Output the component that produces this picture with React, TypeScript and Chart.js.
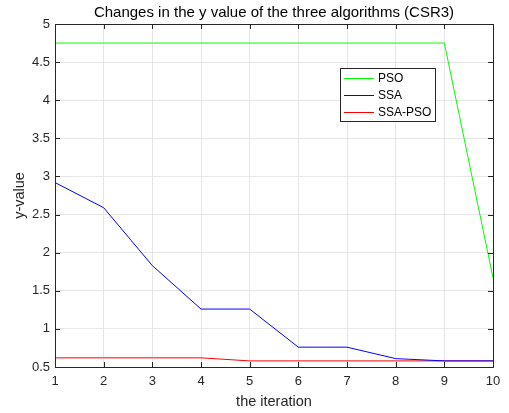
import React, { useEffect, useRef } from "react";
import { Chart, registerables } from "chart.js";

Chart.register(...registerables);

const iterations = [1, 2, 3, 4, 5, 6, 7, 8, 9, 10];
const psoValues = [4.75, 4.75, 4.75, 4.75, 4.75, 4.75, 4.75, 4.75, 4.75, 1.67];
const ssaValues = [2.92, 2.59, 1.83, 1.26, 1.26, 0.76, 0.76, 0.61, 0.58, 0.58];
const ssaPsoValues = [0.62, 0.62, 0.62, 0.62, 0.58, 0.58, 0.58, 0.58, 0.58, 0.58];
const seriesNames = ["PSO", "SSA", "SSA-PSO"];
const seriesColors = ["#00ff00", "#0000ff", "#ff0000"];
const titleText = "Changes in the y value of the three algorithms (CSR3)";
const xTitle = "the iteration";
const yTitle = "y-value";

const FONT = "Liberation Sans, Arial, sans-serif";
const AXIS = "#262626";

const framePlugin = {
  id: "matlabFrame",
  afterDraw(chart: any) {
    const { ctx, chartArea: a, scales } = chart;
    const xs = scales.x;
    const ys = scales.y;
    ctx.save();
    ctx.strokeStyle = AXIS;
    ctx.lineWidth = 1;
    ctx.strokeRect(Math.round(a.left) + 0.5, Math.round(a.top) + 0.5, Math.round(a.right - a.left), Math.round(a.bottom - a.top));
    ctx.beginPath();
    xs.ticks.forEach((t: any) => {
      const px = Math.round(xs.getPixelForValue(t.value)) + 0.5;
      ctx.moveTo(px, a.bottom);
      ctx.lineTo(px, a.bottom - 5);
      ctx.moveTo(px, a.top);
      ctx.lineTo(px, a.top + 5);
    });
    ys.ticks.forEach((t: any) => {
      const py = Math.round(ys.getPixelForValue(t.value)) + 0.5;
      ctx.moveTo(a.left, py);
      ctx.lineTo(a.left + 5, py);
      ctx.moveTo(a.right, py);
      ctx.lineTo(a.right - 5, py);
    });
    ctx.stroke();
    ctx.fillStyle = "#000";
    ctx.font = `15px ${FONT}`;
    ctx.textAlign = "center";
    ctx.textBaseline = "middle";
    ctx.fillText(titleText, (a.left + a.right) / 2, 13);
    ctx.fillStyle = AXIS;
    ctx.font = `14.5px ${FONT}`;
    ctx.fillText(xTitle, (a.left + a.right) / 2, 402);
    ctx.save();
    ctx.translate(20, (a.top + a.bottom) / 2);
    ctx.rotate(-Math.PI / 2);
    ctx.fillText(yTitle, 0, 0);
    ctx.restore();
    const lx = 340.5, ly = 68.5, lw = 95, lh = 53;
    ctx.fillStyle = "#fff";
    ctx.fillRect(lx, ly, lw, lh);
    ctx.strokeStyle = AXIS;
    ctx.strokeRect(lx, ly, lw, lh);
    ctx.textAlign = "left";
    ctx.font = `12px ${FONT}`;
    chart.data.datasets.forEach((ds: any, i: number) => {
      const y = 78.5 + i * 17;
      ctx.strokeStyle = ds.borderColor;
      ctx.beginPath();
      ctx.moveTo(344, y);
      ctx.lineTo(374, y);
      ctx.stroke();
      ctx.fillStyle = "#000";
      ctx.fillText(ds.label, 378, y);
    });
    ctx.restore();
  },
};

export default function App() {
  const ref = useRef<HTMLCanvasElement>(null);
  useEffect(() => {
    if (!ref.current) return;
    const allSeries = [psoValues, ssaValues, ssaPsoValues];
    const chart = new Chart(ref.current, {
      type: "line",
      data: {
        datasets: allSeries.map((vals, i) => ({
          label: seriesNames[i],
          data: iterations.map((x, j) => ({ x, y: vals[j] })),
          borderColor: seriesColors[i],
          backgroundColor: seriesColors[i],
          borderWidth: 1,
          pointRadius: 0,
          tension: 0,
          fill: false,
        })),
      },
      options: {
        responsive: false,
        animation: false,
        layout: { padding: { left: 0, right: 16, top: 24, bottom: 0 } },
        plugins: {
          legend: { display: false },
          title: { display: false },
          tooltip: { enabled: false },
        },
        scales: {
          x: {
            type: "linear",
            min: 1,
            max: 10,
            ticks: { stepSize: 1, padding: 7, color: AXIS, font: { family: FONT, size: 13 } },
            grid: { color: "#e6e6e6", drawTicks: false },
            border: { display: false },
            afterFit(scale: any) {
              scale.height = 46;
            },
          },
          y: {
            type: "linear",
            min: 0.5,
            max: 5,
            ticks: {
              stepSize: 0.5,
              padding: 5,
              color: AXIS,
              font: { family: FONT, size: 13 },
              callback: (v: any) => String(Number(v)),
            },
            grid: { color: "#e6e6e6", drawTicks: false },
            border: { display: false },
            afterFit(scale: any) {
              scale.width = 55;
            },
          },
        },
      },
      plugins: [framePlugin],
    });
    return () => chart.destroy();
  }, []);
  return (
    <div style={{ position: "fixed", left: 0, top: 0, width: 509, height: 413, background: "#fff" }}>
      <canvas ref={ref} width={509} height={413} style={{ display: "block" }} />
    </div>
  );
}
